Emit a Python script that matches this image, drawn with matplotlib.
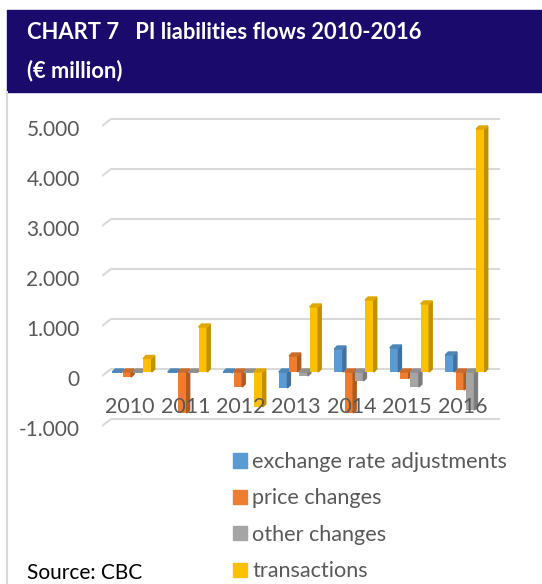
import numpy as np
import matplotlib.pyplot as plt
from matplotlib.patches import Polygon, Rectangle, Patch
from matplotlib.lines import Line2D
from matplotlib.transforms import ScaledTranslation

# Data (EUR million)
years = ['2010', '2011', '2012', '2013', '2014', '2015', '2016']
exchange_rate = [-10, -10, -20, -320, 460, 480, 340]
price_changes = [-100, -820, -300, 320, -820, -130, -360]
other_changes = [-10, -10, -10, -80, -180, -300, -760]
transactions = [270, 900, -700, 1300, 1440, 1360, 4860]

series_names = ['exchange rate adjustments', 'price changes', 'other changes', 'transactions']
series_values = [exchange_rate, price_changes, other_changes, transactions]
front_colors = ['#5B9BD5', '#ED7D31', '#A5A5A5', '#FFC000']
side_colors = ['#41719C', '#AE5A21', '#7C7C7C', '#BF9000']
top_colors = ['#4E86B8', '#CC6A27', '#8F8F8F', '#E0A800']

yticks = [-1000, 0, 1000, 2000, 3000, 4000, 5000]
ytick_labels = ['-1.000', '0', '1.000', '2.000', '3.000', '4.000', '5.000']

W, H = 542, 584
plt.rcParams['font.family'] = ['Lato', 'DejaVu Sans']
fig = plt.figure(figsize=(W / 100, H / 100), dpi=100)

# title band
fig.patches.append(Rectangle((7 / W, 1 - 92 / H), 1 - 7 / W, 82 / H,
                             transform=fig.transFigure, color='#1A0A6B', zorder=0))
fig.text(27 / W, 1 - 39 / H, 'CHART 7   PI liabilities flows 2010-2016',
         color='white', fontsize=15.8, fontweight='bold', va='baseline')
fig.text(27 / W, 1 - 77 / H, '(€ million)',
         color='white', fontsize=15.8, fontweight='bold', va='baseline')
fig.add_artist(Line2D([7 / W, 7 / W], [0, 1 - 92 / H], transform=fig.transFigure,
                      color='#D9D9D9', lw=1.5))

# plot area: 0 sits at y=372px, 50px per 1000
ymin, ymax = -1100, 5100
px_per_unit = 0.05
top_px = 372 - ymax * px_per_unit
bot_px = 372 - ymin * px_per_unit
x_left, x_right = 102, 500
cat_px = 55.5
xmin = (x_left - 132) / cat_px
xmax = 6 + (x_right - (132 + 6 * cat_px)) / cat_px
ax = fig.add_axes([x_left / W, 1 - bot_px / H, (x_right - x_left) / W, (bot_px - top_px) / H])
ax.set_xlim(xmin, xmax)
ax.set_ylim(ymin, ymax)
for s in ax.spines.values():
    s.set_visible(False)
ax.set_xticks([])
ax.tick_params(axis='y', length=0, pad=16, labelsize=15, labelcolor='#595959')
ax.set_yticks(yticks)
ax.set_yticklabels(ytick_labels)
off = ScaledTranslation(0, -4 / 72, fig.dpi_scale_trans)
for lab in ax.get_yticklabels():
    lab.set_transform(lab.get_transform() + off)

# back-wall gridlines with a slanted floor edge
depth_x = 9 / cat_px
for v in yticks:
    ax.plot([xmin, xmin + depth_x, xmax], [v - 80, v + 60, v + 60],
            color='#D9D9D9', lw=1.5, zorder=1, solid_capstyle='butt')

# pseudo-3D columns
x = np.arange(len(years))
step = 0.185
bw = 0.155
dx = 3 / cat_px
dy = 3 / px_per_unit
z = 2
for i in range(len(years)):
    for k in range(4):
        v = series_values[k][i]
        x0 = x[i] + (k - 1.5) * step - bw / 2
        ax.bar(x0, v, width=bw, align='edge', color=front_colors[k], zorder=z)
        ax.add_patch(Polygon([(x0 + bw, 0), (x0 + bw + dx, dy), (x0 + bw + dx, v + dy), (x0 + bw, v)],
                             closed=True, color=side_colors[k], zorder=z))
        t = max(v, 0)
        ax.add_patch(Polygon([(x0, t), (x0 + dx, t + dy), (x0 + bw + dx, t + dy), (x0 + bw, t)],
                             closed=True, color=top_colors[k], zorder=z))
        z += 1

for i, yr in enumerate(years):
    ax.text(x[i] - 0.04, -700, yr, ha='center', va='center', fontsize=15.5,
            color='#595959', zorder=100)

handles = [Patch(color=c) for c in front_colors]
fig.legend(handles, series_names, loc='upper left', bbox_to_anchor=(233 / W, 1 - 452 / H),
           frameon=False, fontsize=15.6, labelcolor='#595959', handlelength=0.64,
           handleheight=0.64, handletextpad=0.25, labelspacing=0.76,
           borderpad=0, borderaxespad=0)

fig.text(27 / W, 5 / H, 'Source: CBC', fontsize=15, color='black', va='baseline')

fig.savefig('out.png', dpi=100)
